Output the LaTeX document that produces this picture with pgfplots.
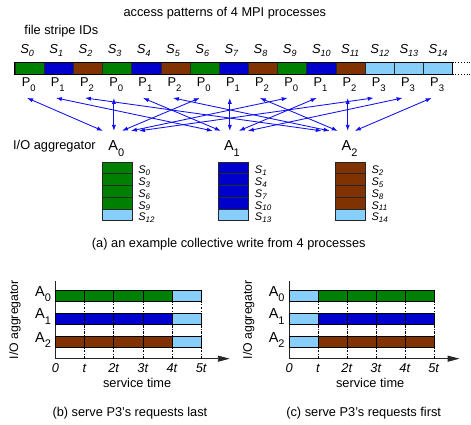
\documentclass[border=0pt]{standalone}
\usepackage{pgfplots}
\pgfplotsset{compat=1.18}
\usepackage{fontspec}
\setmainfont{Liberation Sans}
\usetikzlibrary{arrows.meta}
\definecolor{cg}{RGB}{0,128,0}
\definecolor{cb}{RGB}{0,0,205}
\definecolor{cr}{RGB}{128,51,0}
\definecolor{cl}{RGB}{135,206,250}
\definecolor{ca}{RGB}{15,15,245}

\newcommand{\Ssub}[1]{{\fontsize{13}{13}\selectfont\textit{S}\raisebox{-3.5pt}{\fontsize{9}{9}\selectfont\textit{#1}}}}
\newcommand{\Psub}[1]{P\raisebox{-4.5pt}{\fontsize{9.5}{9.5}\selectfont #1}}
\newcommand{\Asub}[1]{{\fontsize{14.5}{14.5}\selectfont A\raisebox{-5.5pt}{\fontsize{11}{11}\selectfont #1}}}
\newcommand{\sS}[1]{{\fontsize{11}{11}\selectfont\textit{S}\raisebox{-1.8pt}{\fontsize{8}{8}\selectfont\textit{#1}}}}
\newcommand{\stcell}[5]{\addplot[fill=#1,draw=black!85,line width=0.7pt] coordinates {(#2,#3) (#4,#3) (#4,#5) (#2,#5)} --cycle;}
\newcommand{\arr}[4]{\addplot[ca,line width=0.85pt,arrows={Latex[length=6pt,width=4.2pt]-Latex[length=6pt,width=4.2pt]}] coordinates {(#1,#2) (#3,#4)};}

\pgfplotsset{
  gantt/.style={anchor=south west, scale only axis, height=78pt, ymin=0, ymax=78,
    axis x line*=bottom, axis y line*=left,
    axis line style={line width=0.9pt,black!85},
    x axis line style={-{Triangle[length=12pt,width=6pt]}},
    xtick={0,1,2,3,4,5},
    xticklabels={\textit{0},\textit{t},\textit{2t},\textit{3t},\textit{4t},\textit{5t}},
    ytick={16.5,40,62.8}, yticklabels={\Asub{2},\Asub{1},\Asub{0}},
    major tick length=0pt, clip=false,
    xticklabel style={anchor=base,yshift=-13.7pt},
    yticklabel style={yshift=2pt}},
  gbar/.style={xbar, bar width=11.3pt, bar shift=0pt, draw=black, line width=0.8pt},
  gdash/.style={black,line width=0.7pt,dash pattern=on 2.5pt off 1.5pt on 0.7pt off 1.5pt},
  gdiv/.style={black,line width=0.8pt}
}

\begin{document}
\fontsize{12.8}{15}\selectfont
\begin{tikzpicture}
\begin{axis}[at={(0,0)},anchor=south west,scale only axis,width=471pt,height=425pt,
  xmin=0,xmax=471,ymin=0,ymax=425,y dir=reverse,hide axis,clip=false]
\path (rel axis cs:0,0) rectangle (rel axis cs:1,1);
\coordinate (ob) at (axis cs:55.5,359);
\coordinate (oc) at (axis cs:289.3,359);

% titles
\node[anchor=base] at (axis cs:225,17) {access patterns of 4 MPI processes};
\node[anchor=base west] at (axis cs:20,34.5) {file stripe IDs};

% stripe bar
\stcell{cg}{15}{62.3}{44.2}{74.3}
\stcell{cb}{44.2}{62.3}{73.4}{74.3}
\stcell{cr}{73.4}{62.3}{102.6}{74.3}
\stcell{cg}{102.6}{62.3}{131.8}{74.3}
\stcell{cb}{131.8}{62.3}{161}{74.3}
\stcell{cr}{161}{62.3}{190.2}{74.3}
\stcell{cg}{190.2}{62.3}{219.4}{74.3}
\stcell{cb}{219.4}{62.3}{248.6}{74.3}
\stcell{cr}{248.6}{62.3}{277.8}{74.3}
\stcell{cg}{277.8}{62.3}{307}{74.3}
\stcell{cb}{307}{62.3}{336.2}{74.3}
\stcell{cr}{336.2}{62.3}{365.4}{74.3}
\stcell{cl}{365.4}{62.3}{394.6}{74.3}
\stcell{cl}{394.6}{62.3}{423.8}{74.3}
\stcell{cl}{423.8}{62.3}{453}{74.3}
\addplot[black,line width=1pt] coordinates {(15,62.3) (453,62.3) (453,74.3) (15,74.3)} --cycle;
\addplot[black,line width=0.8pt,dotted] coordinates {(453,62.3) (471,62.3)};
\addplot[black,line width=0.8pt,dotted] coordinates {(453,74.3) (471,74.3)};

% stripe IDs
\node[anchor=base west,inner sep=0pt] at (axis cs:20.1,53.3) {\Ssub{0}};
\node[anchor=base west,inner sep=0pt] at (axis cs:49.3,53.3) {\Ssub{1}};
\node[anchor=base west,inner sep=0pt] at (axis cs:78.5,53.3) {\Ssub{2}};
\node[anchor=base west,inner sep=0pt] at (axis cs:107.7,53.3) {\Ssub{3}};
\node[anchor=base west,inner sep=0pt] at (axis cs:136.9,53.3) {\Ssub{4}};
\node[anchor=base west,inner sep=0pt] at (axis cs:166.1,53.3) {\Ssub{5}};
\node[anchor=base west,inner sep=0pt] at (axis cs:195.3,53.3) {\Ssub{6}};
\node[anchor=base west,inner sep=0pt] at (axis cs:224.5,53.3) {\Ssub{7}};
\node[anchor=base west,inner sep=0pt] at (axis cs:253.7,53.3) {\Ssub{8}};
\node[anchor=base west,inner sep=0pt] at (axis cs:282.9,53.3) {\Ssub{9}};
\node[anchor=base west,inner sep=0pt] at (axis cs:312.1,53.3) {\Ssub{10}};
\node[anchor=base west,inner sep=0pt] at (axis cs:341.3,53.3) {\Ssub{11}};
\node[anchor=base west,inner sep=0pt] at (axis cs:370.5,53.3) {\Ssub{12}};
\node[anchor=base west,inner sep=0pt] at (axis cs:399.7,53.3) {\Ssub{13}};
\node[anchor=base west,inner sep=0pt] at (axis cs:428.9,53.3) {\Ssub{14}};

% process labels
\node[anchor=base west,inner sep=0pt] at (axis cs:21.6,87) {\Psub{0}};
\node[anchor=base west,inner sep=0pt] at (axis cs:50.8,87) {\Psub{1}};
\node[anchor=base west,inner sep=0pt] at (axis cs:80,87) {\Psub{2}};
\node[anchor=base west,inner sep=0pt] at (axis cs:109.2,87) {\Psub{0}};
\node[anchor=base west,inner sep=0pt] at (axis cs:138.4,87) {\Psub{1}};
\node[anchor=base west,inner sep=0pt] at (axis cs:167.6,87) {\Psub{2}};
\node[anchor=base west,inner sep=0pt] at (axis cs:196.8,87) {\Psub{0}};
\node[anchor=base west,inner sep=0pt] at (axis cs:226,87) {\Psub{1}};
\node[anchor=base west,inner sep=0pt] at (axis cs:255.2,87) {\Psub{2}};
\node[anchor=base west,inner sep=0pt] at (axis cs:284.4,87) {\Psub{0}};
\node[anchor=base west,inner sep=0pt] at (axis cs:313.6,87) {\Psub{1}};
\node[anchor=base west,inner sep=0pt] at (axis cs:342.8,87) {\Psub{2}};
\node[anchor=base west,inner sep=0pt] at (axis cs:372,87) {\Psub{3}};
\node[anchor=base west,inner sep=0pt] at (axis cs:401.2,87) {\Psub{3}};
\node[anchor=base west,inner sep=0pt] at (axis cs:430.4,87) {\Psub{3}};

% arrows
\arr{27}{98}{103}{131}
\arr{114}{98}{114}{131}
\arr{200}{98}{122}{131}
\arr{288}{98}{131}{131}
\arr{374}{98}{139}{131}
\arr{56}{98}{213}{131}
\arr{143}{98}{221}{131}
\arr{230}{98}{230}{131}
\arr{317}{98}{239}{131}
\arr{403}{98}{248}{131}
\arr{85}{98}{322}{131}
\arr{173}{98}{330}{131}
\arr{260}{98}{338}{131}
\arr{348}{98}{348}{131}
\arr{432}{98}{355}{131}

% aggregators
\node[anchor=base west,inner sep=0pt] at (axis cs:13,150) {I/O aggregator};
\node[anchor=base west,inner sep=0pt] at (axis cs:108.3,151) {\Asub{0}};
\node[anchor=base west,inner sep=0pt] at (axis cs:224,151) {\Asub{1}};
\node[anchor=base west,inner sep=0pt] at (axis cs:341.7,151) {\Asub{2}};

% aggregator buffers
\stcell{cg}{102.5}{162}{132}{173.8}
\stcell{cg}{102.5}{173.8}{132}{185.6}
\stcell{cg}{102.5}{185.6}{132}{197.4}
\stcell{cg}{102.5}{197.4}{132}{209.2}
\stcell{cl}{102.5}{209.2}{132}{221}
\stcell{cb}{219}{162}{248.5}{173.8}
\stcell{cb}{219}{173.8}{248.5}{185.6}
\stcell{cb}{219}{185.6}{248.5}{197.4}
\stcell{cb}{219}{197.4}{248.5}{209.2}
\stcell{cl}{219}{209.2}{248.5}{221}
\stcell{cr}{336}{162}{365.5}{173.8}
\stcell{cr}{336}{173.8}{365.5}{185.6}
\stcell{cr}{336}{185.6}{365.5}{197.4}
\stcell{cr}{336}{197.4}{365.5}{209.2}
\stcell{cl}{336}{209.2}{365.5}{221}

\node[anchor=base west,inner sep=0pt] at (axis cs:138.3,174) {\sS{0}};
\node[anchor=base west,inner sep=0pt] at (axis cs:138.3,185.6) {\sS{3}};
\node[anchor=base west,inner sep=0pt] at (axis cs:138.3,197.4) {\sS{6}};
\node[anchor=base west,inner sep=0pt] at (axis cs:138.3,209.2) {\sS{9}};
\node[anchor=base west,inner sep=0pt] at (axis cs:138.3,221) {\sS{12}};
\node[anchor=base west,inner sep=0pt] at (axis cs:255,174) {\sS{1}};
\node[anchor=base west,inner sep=0pt] at (axis cs:255,185.6) {\sS{4}};
\node[anchor=base west,inner sep=0pt] at (axis cs:255,197.4) {\sS{7}};
\node[anchor=base west,inner sep=0pt] at (axis cs:255,209.2) {\sS{10}};
\node[anchor=base west,inner sep=0pt] at (axis cs:255,221) {\sS{13}};
\node[anchor=base west,inner sep=0pt] at (axis cs:371.7,174) {\sS{2}};
\node[anchor=base west,inner sep=0pt] at (axis cs:371.7,185.6) {\sS{5}};
\node[anchor=base west,inner sep=0pt] at (axis cs:371.7,197.4) {\sS{8}};
\node[anchor=base west,inner sep=0pt] at (axis cs:371.7,209.2) {\sS{11}};
\node[anchor=base west,inner sep=0pt] at (axis cs:371.7,221) {\sS{14}};

% captions
\node[anchor=base] at (axis cs:229,248) {(a) an example collective write from 4 processes};
\node[anchor=base] at (axis cs:130,416.5) {(b) serve P3’s requests last};
\node[anchor=base] at (axis cs:364,416.5) {(c) serve P3’s requests first};
\end{axis}

% (b) serve P3's requests last
\begin{axis}[gantt, at={(ob)}, width=174.5pt, xmin=0, xmax=5.976]
\pgfplotsinvokeforeach{1,2,3,4,5}{\addplot[gdash] coordinates {(#1,0) (#1,62.8)};}
\addplot[gbar,fill=cl] coordinates {(5,62.8)};
\addplot[gbar,fill=cl] coordinates {(5,40)};
\addplot[gbar,fill=cl] coordinates {(5,16.5)};
\addplot[gbar,fill=cg] coordinates {(4,62.8)};
\addplot[gbar,fill=cb] coordinates {(4,40)};
\addplot[gbar,fill=cr] coordinates {(4,16.5)};
\pgfplotsinvokeforeach{1,2,3}{
  \addplot[gdiv] coordinates {(#1,57.15) (#1,68.45)};
  \addplot[gdiv] coordinates {(#1,34.35) (#1,45.65)};
  \addplot[gdiv] coordinates {(#1,10.85) (#1,22.15)};
}
\node[anchor=base] at (axis cs:2.8,-29) {service time};
\node[rotate=90,font=\fontsize{12.3}{14}\selectfont] at (axis cs:-1.387,39) {I/O aggregator};
\end{axis}

% (c) serve P3's requests first
\begin{axis}[gantt, at={(oc)}, width=170.7pt, xmin=0, xmax=5.886]
\pgfplotsinvokeforeach{1,2,3,4,5}{\addplot[gdash] coordinates {(#1,0) (#1,62.8)};}
\addplot[gbar,fill=cg] coordinates {(5,62.8)};
\addplot[gbar,fill=cb] coordinates {(5,40)};
\addplot[gbar,fill=cr] coordinates {(5,16.5)};
\addplot[gbar,fill=cl] coordinates {(1,62.8)};
\addplot[gbar,fill=cl] coordinates {(1,40)};
\addplot[gbar,fill=cl] coordinates {(1,16.5)};
\pgfplotsinvokeforeach{2,3,4}{
  \addplot[gdiv] coordinates {(#1,57.15) (#1,68.45)};
  \addplot[gdiv] coordinates {(#1,34.35) (#1,45.65)};
  \addplot[gdiv] coordinates {(#1,10.85) (#1,22.15)};
}
\node[anchor=base] at (axis cs:2.8,-29) {service time};
\node[rotate=90,font=\fontsize{12.3}{14}\selectfont] at (axis cs:-1.39,39) {I/O aggregator};
\end{axis}
\end{tikzpicture}
\end{document}
